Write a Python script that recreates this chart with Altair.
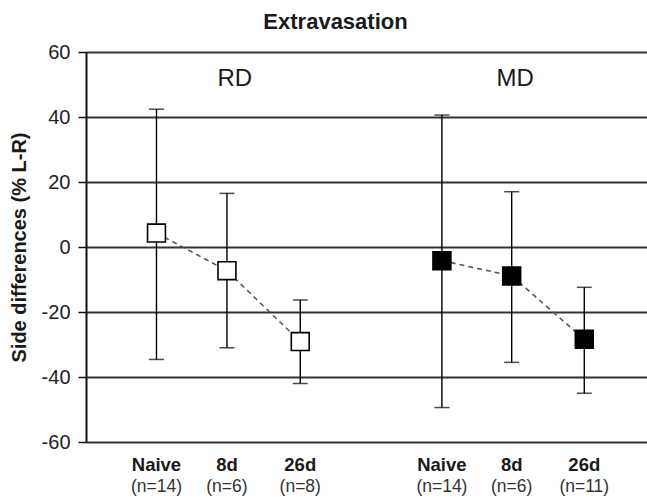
import altair as alt
import pandas as pd

groups = ["RD", "RD", "RD", "MD", "MD", "MD"]
times = ["Naive", "8d", "26d", "Naive", "8d", "26d"]
ns = ["(n=14)", "(n=6)", "(n=8)", "(n=14)", "(n=6)", "(n=11)"]
positions = [1, 2, 3.04, 5.05, 6.04, 7.07]
means = [4.3, -7.3, -29.1, -4.2, -8.9, -28.4]
upper = [42.4, 16.5, -16.3, 40.6, 17.0, -12.4]
lower = [-34.6, -31.0, -42.0, -49.4, -35.5, -45.0]
fills = ["white", "white", "white", "black", "black", "black"]
panel_labels = ["RD", "MD"]
panel_pos = [2.11, 6.09]

df = pd.DataFrame({
    "group": groups, "time": times, "n": ns, "pos": positions,
    "mean": means, "upper": upper, "lower": lower, "fill": fills,
})
lab = pd.DataFrame({"label": panel_labels, "pos": panel_pos})

W, H = 561, 390
FONT = "Liberation Sans"
xs = alt.Scale(domain=[0, 7.96], nice=False, zero=False)
ys = alt.Scale(domain=[-60, 60], nice=False, zero=False)

base = alt.Chart(df)

bars = base.mark_rule(color="black", strokeWidth=1.4).encode(
    x=alt.X("pos:Q", scale=xs, axis=None),
    y=alt.Y("lower:Q", scale=ys, axis=alt.Axis(
        values=[-60, -40, -20, 0, 20, 40, 60], title="Side differences (% L-R)",
        labelExpr="toString(datum.value)",
        titleFont=FONT, titleFontSize=20, titleFontWeight="bold",
        titleColor="#1a1a1a", titlePadding=12,
        labelFont=FONT, labelFontSize=20, labelColor="#222",
        labelPadding=8, tickSize=8, tickColor="#111", tickWidth=1.5,
        domainColor="#111", domainWidth=2,
        grid=True, gridColor="#333", gridWidth=1.8)),
    y2="upper:Q",
)

caps_hi = base.mark_tick(color="black", thickness=1.5, size=15, orient="horizontal").encode(
    x=alt.X("pos:Q", scale=xs), y=alt.Y("upper:Q", scale=ys))
caps_lo = base.mark_tick(color="black", thickness=1.5, size=15, orient="horizontal").encode(
    x=alt.X("pos:Q", scale=xs), y=alt.Y("lower:Q", scale=ys))

lines = base.mark_line(color="#555", strokeDash=[5, 4], strokeWidth=1.6).encode(
    x=alt.X("pos:Q", scale=xs), y=alt.Y("mean:Q", scale=ys), detail="group:N")

pts = base.mark_point(shape="square", size=320, filled=True, stroke="black",
                      strokeWidth=1.6, opacity=1).encode(
    x=alt.X("pos:Q", scale=xs), y=alt.Y("mean:Q", scale=ys),
    fill=alt.Fill("fill:N", scale=None))

tlab = base.mark_text(font=FONT, fontSize=18.5, fontWeight="bold",
                      color="#1a1a1a", baseline="middle").encode(
    x=alt.X("pos:Q", scale=xs), y=alt.value(H + 23), text="time:N")
nlab = base.mark_text(font=FONT, fontSize=17.5, color="#333",
                      baseline="middle").encode(
    x=alt.X("pos:Q", scale=xs), y=alt.value(H + 45), text="n:N")

plab = alt.Chart(lab).mark_text(font=FONT, fontSize=24,
                                color="#1a1a1a", baseline="middle").encode(
    x=alt.X("pos:Q", scale=xs), y=alt.value(27), text="label:N")

chart = alt.layer(bars, caps_hi, caps_lo, lines, pts, tlab, nlab, plab).properties(
    width=W, height=H,
    title=alt.TitleParams("Extravasation", font=FONT, fontSize=22,
                          fontWeight="bold", color="#1a1a1a", anchor="middle",
                          dx=-31, offset=8),
    autosize=alt.AutoSizeParams(type="none"),
    padding={"left": 86, "top": 52, "right": 0, "bottom": 57},
).configure_view(stroke=None)

chart.save("out.html", embed_options={"renderer": "svg", "actions": False})
